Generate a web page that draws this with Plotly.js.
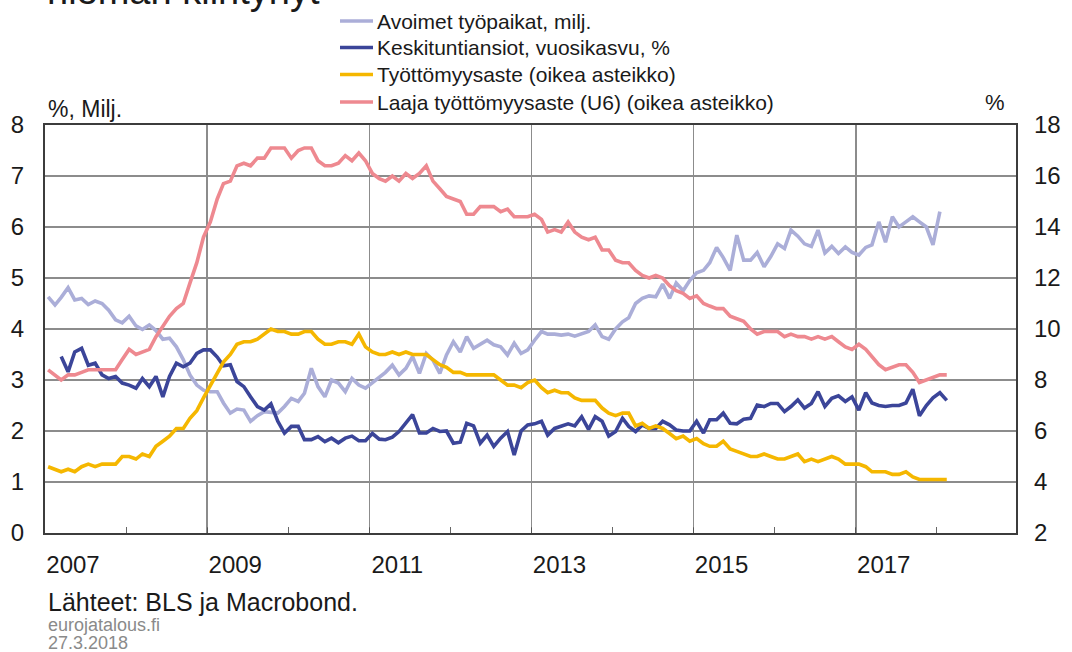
<!DOCTYPE html>
<html>
<head>
<meta charset="utf-8">
<script src="https://cdn.plot.ly/plotly-3.0.1.min.js"></script>
<style>
html,body{margin:0;padding:0;background:#fff;}
#chart{width:1072px;height:652px;}
</style>
</head>
<body>
<div id="chart"></div>
<script>
// ---- Data (monthly, first month = 2007-01) ----
const startYear = 2007;
const seriesNames = [
  'Avoimet työpaikat, milj.',
  'Keskituntiansiot, vuosikasvu, %',
  'Työttömyysaste (oikea asteikko)',
  'Laaja työttömyysaste (U6) (oikea asteikko)'
];

// Avoimet työpaikat, milj. (2007-01 .. 2018-01)
const avoimet = [
  4.63,4.47,4.62,4.81,4.57,4.60,4.48,4.55,4.50,4.37,4.18,4.12,
  4.25,4.06,3.99,4.08,3.97,3.80,3.82,3.65,3.40,3.10,2.90,2.80,
  2.77,2.77,2.55,2.35,2.43,2.41,2.19,2.30,2.38,2.37,2.35,2.48,
  2.64,2.58,2.74,3.23,2.87,2.67,3.00,2.94,2.77,3.03,2.90,2.84,
  2.95,3.05,3.15,3.29,3.10,3.23,3.46,3.13,3.52,3.39,3.13,3.49,
  3.75,3.55,3.85,3.62,3.69,3.78,3.69,3.65,3.49,3.72,3.52,3.59,
  3.78,3.95,3.90,3.90,3.88,3.90,3.86,3.90,3.95,4.08,3.85,3.80,
  4.00,4.14,4.22,4.50,4.60,4.65,4.63,4.88,4.60,4.90,4.75,4.95,
  5.10,5.15,5.30,5.60,5.40,5.15,5.84,5.35,5.35,5.50,5.22,5.42,
  5.67,5.58,5.94,5.82,5.67,5.62,5.94,5.49,5.62,5.48,5.61,5.50,
  5.45,5.60,5.65,6.10,5.70,6.20,6.00,6.10,6.20,6.10,6.00,5.65,
  6.30
];

// Keskituntiansiot, vuosikasvu % (2007-01 .. 2018-02)
const ansiot = [
  null,null,3.46,3.16,3.55,3.62,3.29,3.33,3.10,3.03,3.07,2.94,
  2.90,2.84,3.03,2.87,3.07,2.67,3.07,3.33,3.26,3.33,3.52,3.59,
  3.59,3.45,3.28,3.30,2.97,2.87,2.67,2.48,2.41,2.53,2.19,1.96,
  2.09,2.09,1.83,1.83,1.89,1.79,1.86,1.77,1.86,1.90,1.81,1.81,
  1.95,1.84,1.83,1.88,1.99,2.15,2.32,1.96,1.96,2.05,1.99,2.00,
  1.76,1.78,2.15,2.10,1.76,1.92,1.70,1.86,1.99,1.53,2.00,2.12,
  2.14,2.19,1.92,2.05,2.10,2.14,2.10,2.28,2.03,2.28,2.19,1.90,
  1.99,2.25,2.09,1.99,2.12,2.05,2.05,2.19,2.12,2.02,2.00,2.00,
  2.19,1.96,2.22,2.22,2.35,2.15,2.14,2.23,2.25,2.51,2.48,2.54,
  2.54,2.38,2.48,2.61,2.45,2.54,2.77,2.48,2.64,2.69,2.58,2.67,
  2.41,2.75,2.55,2.50,2.48,2.50,2.50,2.55,2.82,2.30,2.50,2.65,
  2.75,2.60
];

// Työttömyysaste, % (oikea asteikko)
const tyottomyys = [
  4.6,4.5,4.4,4.5,4.4,4.6,4.7,4.6,4.7,4.7,4.7,5.0,
  5.0,4.9,5.1,5.0,5.4,5.6,5.8,6.1,6.1,6.5,6.8,7.3,
  7.8,8.3,8.7,9.0,9.4,9.5,9.5,9.6,9.8,10.0,9.9,9.9,
  9.8,9.8,9.9,9.9,9.6,9.4,9.4,9.5,9.5,9.4,9.8,9.3,
  9.1,9.0,9.0,9.1,9.0,9.1,9.0,9.0,9.0,8.8,8.6,8.5,
  8.3,8.3,8.2,8.2,8.2,8.2,8.2,8.0,7.8,7.8,7.7,7.9,
  8.0,7.7,7.5,7.6,7.5,7.5,7.3,7.2,7.2,7.2,6.9,6.7,
  6.6,6.7,6.7,6.2,6.3,6.1,6.2,6.1,5.9,5.7,5.8,5.6,
  5.7,5.5,5.4,5.4,5.6,5.3,5.2,5.1,5.0,5.0,5.1,5.0,
  4.9,4.9,5.0,5.1,4.8,4.9,4.8,4.9,5.0,4.9,4.7,4.7,
  4.7,4.6,4.4,4.4,4.4,4.3,4.3,4.4,4.2,4.1,4.1,4.1,
  4.1,4.1
];

// Laaja työttömyysaste (U6), % (oikea asteikko)
const u6 = [
  8.4,8.2,8.0,8.2,8.2,8.3,8.4,8.4,8.4,8.4,8.4,8.8,
  9.2,9.0,9.1,9.2,9.7,10.1,10.5,10.8,11.0,11.8,12.6,13.6,
  14.2,15.1,15.7,15.8,16.4,16.5,16.4,16.7,16.7,17.1,17.1,17.1,
  16.7,17.0,17.1,17.1,16.6,16.4,16.4,16.5,16.8,16.6,16.9,16.6,
  16.1,15.9,15.8,16.0,15.8,16.1,15.9,16.1,16.4,15.8,15.5,15.2,
  15.1,15.0,14.5,14.5,14.8,14.8,14.8,14.6,14.7,14.4,14.4,14.4,
  14.5,14.3,13.8,13.9,13.8,14.2,13.8,13.6,13.5,13.6,13.1,13.1,
  12.7,12.6,12.6,12.3,12.1,12.0,12.1,12.0,11.7,11.5,11.4,11.2,
  11.3,11.0,10.9,10.8,10.8,10.5,10.4,10.3,10.0,9.8,9.9,9.9,
  9.9,9.7,9.8,9.7,9.7,9.6,9.7,9.6,9.7,9.5,9.3,9.2,
  9.4,9.2,8.9,8.6,8.4,8.5,8.6,8.6,8.3,7.9,8.0,8.1,
  8.2,8.2
];

const colors = ['#abaed8', '#3b4599', '#f5b700', '#ee8990'];

const leftTicks = [0,1,2,3,4,5,6,7,8];
const rightTicks = [2,4,6,8,10,12,14,16,18];
const yearTicks = ['2007','2009','2011','2013','2015','2017'];

const titleText = 'hieman kiihtynyt';
const leftUnit = '%, Milj.';
const rightUnit = '%';
const sourceText = 'Lähteet: BLS ja Macrobond.';
const siteText = 'eurojatalous.fi';
const dateText = '27.3.2018';

function monthDates(n) {
  const out = [];
  for (let i = 0; i < n; i++) {
    const y = startYear + Math.floor(i / 12);
    const m = (i % 12) + 1;
    out.push(y + '-' + String(m).padStart(2, '0') + '-15');
  }
  return out;
}

const FONT = 'Liberation Sans, Arial, Helvetica, sans-serif';

const traces = [
  {y: avoimet, yaxis: 'y'},
  {y: ansiot, yaxis: 'y'},
  {y: tyottomyys, yaxis: 'y2'},
  {y: u6, yaxis: 'y2'}
].map((t, i) => ({
  type: 'scatter',
  mode: 'lines',
  x: monthDates(t.y.length),
  y: t.y,
  yaxis: t.yaxis,
  name: seriesNames[i],
  line: {color: colors[i], width: 3.6},
  connectgaps: false,
  showlegend: false,
  hoverinfo: 'skip'
}));

const W = 1072, H = 652;
const mL = 45, mR = 56, mT = 125, mB = 119;
const plotW = W - mL - mR, plotH = H - mT - mB;
const px2x = p => (p - mL) / plotW;
const py2y = p => (H - mB - p) / plotH;

// legend (key) rows
const legendRowsY = [21, 47.5, 74.5, 102];
const legendLineX0 = 340, legendLineX1 = 373, legendTextX = 375;

const legendShapes = seriesNames.map((n, i) => ({
  type: 'line', xref: 'paper', yref: 'paper',
  x0: px2x(legendLineX0), x1: px2x(legendLineX1),
  y0: py2y(legendRowsY[i]), y1: py2y(legendRowsY[i]),
  line: {color: colors[i], width: 3.6}
}));
const legendTexts = seriesNames.map((n, i) => ({
  text: n, xref: 'paper', yref: 'paper',
  x: px2x(legendTextX), y: py2y(legendRowsY[i]),
  xanchor: 'left', yanchor: 'middle', showarrow: false,
  font: {size: 21, family: FONT, color: '#1a1a1a'}
}));

const layout = {
  width: W, height: H,
  margin: {l: mL, r: mR, t: mT, b: mB, pad: 0},
  paper_bgcolor: '#ffffff',
  plot_bgcolor: '#ffffff',
  font: {family: FONT, color: '#1a1a1a', size: 18},
  showlegend: false,
  xaxis: {
    type: 'date',
    range: ['2007-01-01', '2018-12-24'],
    tickmode: 'array',
    tickvals: yearTicks.map(y => y + '-01-01'),
    ticktext: yearTicks,
    ticks: 'inside', ticklen: 5, tickcolor: '#555', tickwidth: 1,
    ticklabelshift: 28,
    ticklabelstandoff: 9,
    tickfont: {size: 24, family: FONT, color: '#1a1a1a'},
    showgrid: true, gridcolor: '#8c8c8c', gridwidth: 1.5,
    minor: {dtick: 'M12', tick0: '2008-01-01', ticks: 'inside', ticklen: 6, tickcolor: '#666', tickwidth: 1, showgrid: false},
    showline: true, linecolor: '#3c3c3c', linewidth: 2, mirror: true,
    zeroline: false, fixedrange: true
  },
  yaxis: {
    range: [0, 8],
    tickmode: 'array', tickvals: leftTicks, ticktext: leftTicks.map(String),
    ticks: '',
    ticklabelstandoff: 14,
    tickfont: {size: 24, family: FONT, color: '#1a1a1a'},
    showgrid: true, gridcolor: '#8c8c8c', gridwidth: 1.5,
    showline: true, linecolor: '#3c3c3c', linewidth: 2, mirror: true,
    zeroline: false, fixedrange: true
  },
  yaxis2: {
    overlaying: 'y', side: 'right',
    range: [2, 18],
    tickmode: 'array', tickvals: rightTicks, ticktext: rightTicks.map(String),
    ticks: '',
    ticklabelstandoff: 17,
    tickfont: {size: 24, family: FONT, color: '#1a1a1a'},
    showgrid: false, showline: false, zeroline: false, fixedrange: true
  },
  shapes: legendShapes,
  annotations: [
    {text: titleText, xref: 'paper', yref: 'paper', x: px2x(45), y: py2y(14),
     xanchor: 'left', yanchor: 'bottom', showarrow: false,
     font: {size: 38, family: FONT, color: '#1a1a1a'}},
    {text: leftUnit, xref: 'paper', yref: 'paper', x: px2x(46), y: py2y(109),
     xanchor: 'left', yanchor: 'middle', showarrow: false,
     font: {size: 23, family: FONT, color: '#1a1a1a'}},
    {text: rightUnit, xref: 'paper', yref: 'paper', x: px2x(995), y: py2y(102),
     xanchor: 'center', yanchor: 'middle', showarrow: false,
     font: {size: 22, family: FONT, color: '#1a1a1a'}},
    {text: sourceText, xref: 'paper', yref: 'paper', x: px2x(46), y: py2y(602),
     xanchor: 'left', yanchor: 'middle', showarrow: false,
     font: {size: 25, family: FONT, color: '#1a1a1a'}},
    {text: siteText, xref: 'paper', yref: 'paper', x: px2x(46), y: py2y(625),
     xanchor: 'left', yanchor: 'middle', showarrow: false,
     font: {size: 18, family: FONT, color: '#8a8a8a'}},
    {text: dateText, xref: 'paper', yref: 'paper', x: px2x(46), y: py2y(643),
     xanchor: 'left', yanchor: 'middle', showarrow: false,
     font: {size: 18, family: FONT, color: '#8a8a8a'}}
  ].concat(legendTexts)
};

Plotly.newPlot('chart', traces, layout, {staticPlot: true, displayModeBar: false});
</script>
</body>
</html>
